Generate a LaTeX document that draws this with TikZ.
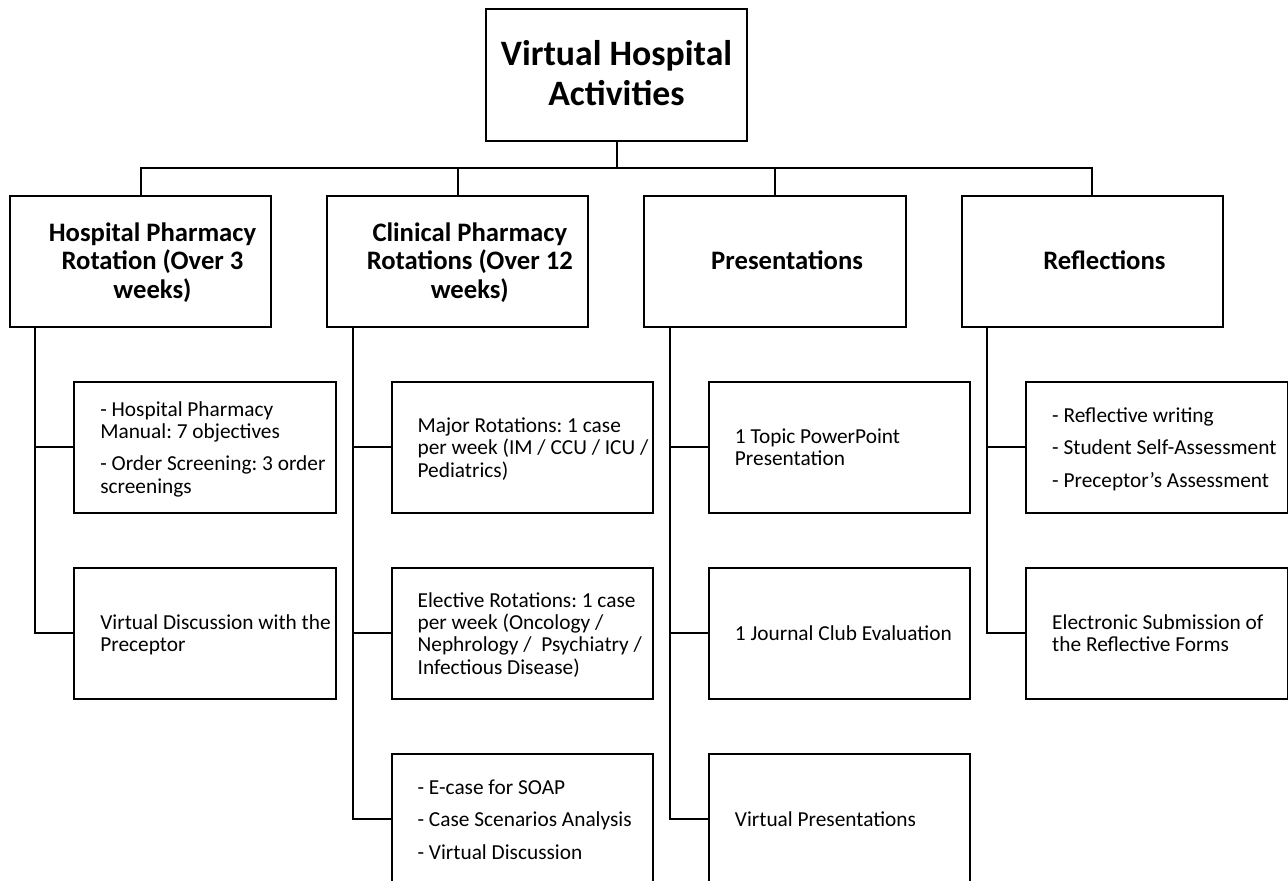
\documentclass[tikz,border=0pt]{standalone}
\usepackage{fontspec}
\setmainfont{Carlito}

\newcommand{\leftlines}[1]{\spaceskip=0.226em plus 0.1em minus 0.05em\relax\raisebox{-2.25pt}[\height][\depth]{\begin{tabular}{@{}l@{}}#1\end{tabular}}}
\newcommand{\centerlines}[1]{\spaceskip=0.226em plus 0.1em minus 0.05em\relax\raisebox{-2.25pt}[\height][\depth]{\begin{tabular}{@{}c@{}}#1\end{tabular}}}

\tikzset{
  box/.style={draw, line width=1.5pt, minimum width=196pt, minimum height=98.25pt, inner sep=0pt, text width=196pt},
  rootbox/.style={box, font=\bfseries\frenchspacing\fontsize{26.8}{30}\selectfont,
    execute at begin node={\centering}},
  headbox/.style={box, font=\bfseries\frenchspacing\fontsize{20}{21.2}\selectfont,
    execute at begin node={\centering\leftskip=18pt plus 1fil}},
  itembox/.style={box, font=\frenchspacing\fontsize{16}{16.75}\selectfont,
    execute at begin node={\raggedright\leftskip=19.5pt}},
  wire/.style={line width=1.5pt}
}

\begin{document}
\begin{tikzpicture}[x=0.75pt,y=0.75pt,yscale=-1,xscale=1]
\useasboundingbox (0,0) rectangle (1288,881);
\clip (0,0) rectangle (1288,881);

% Root
\node[rootbox] (root) at (616.5,75) {\centerlines{Virtual Hospital\\Activities}};

% Level one
\node[headbox] (hpr) at (140.5,261.2) {\centerlines{Hospital Pharmacy\\Rotation (Over 3\\weeks)}};
\node[headbox] (cpr) at (457.8,261.2) {\centerlines{Clinical Pharmacy\\Rotations (Over 12\\weeks)}};
\node[headbox] (pres) at (775.1,261.2) {\centerlines{Presentations}};
\node[headbox] (refl) at (1092.4,261.2) {\centerlines{Reflections}};

% Level two
\node[itembox] (hpra) at (205,447.2) {\leftlines{- Hospital Pharmacy\\Manual: 7 objectives\\[7.5pt]- Order Screening: 3 order\\screenings}};
\node[itembox] (hprb) at (205,633.2) {\leftlines{Virtual Discussion with the\\Preceptor}};

\node[itembox] (cpra) at (522.3,447.2) {\leftlines{Major Rotations: 1 case\\per week (IM / CCU / ICU /\\Pediatrics)}};
\node[itembox] (cprb) at (522.3,633.2) {\leftlines{Elective Rotations: 1 case\\per week (Oncology /\\Nephrology /~ Psychiatry /\\Infectious Disease)}};
\node[itembox] (cprc) at (522.3,819.2) {\leftlines{- E-case for SOAP\\[7.5pt]- Case Scenarios Analysis\\[7.5pt]- Virtual Discussion}};

\node[itembox] (presa) at (839.6,447.2) {\leftlines{1 Topic PowerPoint\\Presentation}};
\node[itembox] (presb) at (839.6,633.2) {\leftlines{1 Journal Club Evaluation}};
\node[itembox] (presc) at (839.6,819.2) {\leftlines{Virtual Presentations}};

\node[itembox] (refla) at (1156.9,447.2) {\leftlines{- Reflective writing\\[7.5pt]- Student Self-Assessment\\[7.5pt]- Preceptor’s Assessment}};
\node[itembox] (reflb) at (1156.9,633.2) {\leftlines{Electronic Submission of\\the Reflective Forms}};

% Top bus
\coordinate (bus) at (616.5,168);
\draw[wire] (root.south) -- (bus);
\draw[wire] (hpr.north) |- (bus) -| (refl.north);
\draw[wire] (cpr.north) -- (cpr.north |- bus);
\draw[wire] (pres.north) -- (pres.north |- bus);

% Trunks
\draw[wire] ([xshift=19.8pt]hpr.south west) |- (hpra.west);
\draw[wire] ([xshift=19.8pt]hpr.south west) |- (hprb.west);
\draw[wire] ([xshift=19.8pt]cpr.south west) |- (cpra.west);
\draw[wire] ([xshift=19.8pt]cpr.south west) |- (cprb.west);
\draw[wire] ([xshift=19.8pt]cpr.south west) |- (cprc.west);
\draw[wire] ([xshift=19.8pt]pres.south west) |- (presa.west);
\draw[wire] ([xshift=19.8pt]pres.south west) |- (presb.west);
\draw[wire] ([xshift=19.8pt]pres.south west) |- (presc.west);
\draw[wire] ([xshift=19.8pt]refl.south west) |- (refla.west);
\draw[wire] ([xshift=19.8pt]refl.south west) |- (reflb.west);

\end{tikzpicture}
\end{document}
